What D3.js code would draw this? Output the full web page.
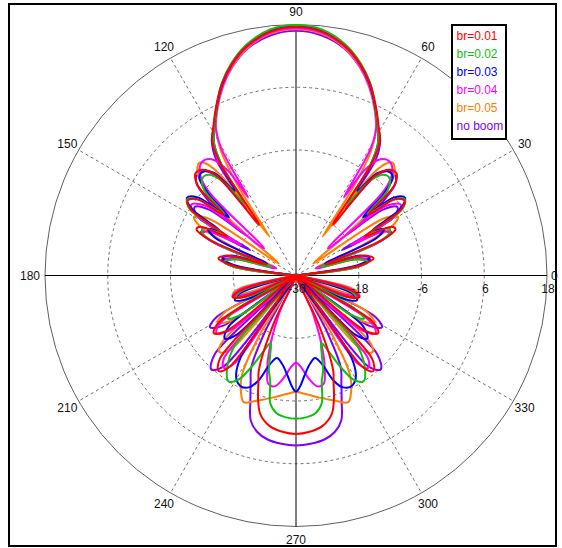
<!DOCTYPE html>
<html>
<head>
<meta charset="utf-8">
<script src="https://cdn.jsdelivr.net/npm/d3@7"></script>
<style>
  body { margin: 0; background: #ffffff; }
  svg { display: block; }
  text { font-family: "Liberation Sans", Arial, sans-serif; font-size: 12px; }
</style>
</head>
<body>
<svg id="chart" width="562" height="548"></svg>
<script>
// Polar grid
const angleTicks = [0, 30, 60, 90, 120, 150, 180, 210, 240, 270, 300, 330];
const radialTicks = [-30, -18, -6, 6, 18];

// Legend entries (top to bottom) and colours
const seriesNames = ["br=0.01", "br=0.02", "br=0.03", "br=0.04", "br=0.05", "no boom"];
const seriesColors = ["#ff0000", "#10c010", "#0000ff", "#ff00ff", "#ff8000", "#8000ff"];

// Gain patterns in dB, [angle off boresight (deg), gain]; each pattern is symmetric
// about the 90/270 axis, so only one half (0 = 90 deg direction, 180 = 270 deg) is listed.
const br001 = [[0,17.5],[6,16.9],[12,14.9],[17,12.2],[21,9.4],[25,6.0],[29,2.6],[32,0.2],[34,-4],[36,-18],[38.5,-5.5],[41.5,-3.0],[44.5,-2.6],[47.5,-4.5],[50,-12],[52.5,-6],[55.5,-4.8],[58,-6.5],[60.5,-15],[63,-9.5],[65,-9.0],[67.5,-12],[70,-24],[73.5,-16.5],[77.5,-14.8],[81,-17.5],[85,-30],[100,-30],[105,-19],[109,-17.2],[112.5,-19.5],[117,-30],[121,-13],[125,-10.8],[128.5,-13],[133,-30],[137.5,-8.5],[141,-6.5],[144,-8.5],[149,-30],[155,-20],[158.6,-10.5],[160.4,-8.6],[163,-5.2],[165.6,-2.6],[170,-0.8],[175,0],[180,0.3]];
const br002 = [[0,17.9],[6,17.3],[12,15.2],[17,12.4],[21,9.5],[25,5.9],[29,2.3],[32,-0.5],[34,-5],[35.5,-13],[38,-7],[41,-4.5],[44,-4.2],[47,-6],[49.5,-12],[52,-6.5],[55,-4.6],[58,-6],[60.5,-14],[63,-10],[66,-10.5],[68.5,-15],[71,-25],[75,-18],[79,-16],[82,-18],[86,-30],[100,-30],[106,-19],[110,-17.8],[113.5,-20],[117,-30],[119.5,-17],[122.5,-14.6],[125.5,-17],[131,-30],[139,-12],[144,-7.5],[147.5,-6.0],[151,-7.2],[154,-10.5],[157,-14.5],[159.4,-16.2],[162,-14],[164,-11.2],[166.3,-9.2],[168.7,-5.0],[172,-3.4],[176,-2.8],[180,-2.6]];
const br003 = [[0,17.7],[6,17.1],[12,15.0],[17,12.2],[21,9.3],[25,5.8],[29,2.3],[32,-0.5],[34,-4.5],[36,-10],[38.5,-5],[41.5,-3.4],[44.5,-3.6],[47,-7],[49,-13],[51.5,-6],[54.5,-4.4],[57.5,-6.5],[59.5,-13],[62,-11],[65,-13],[68,-24],[73,-17],[76.5,-15.5],[80,-17.5],[84,-30],[100,-30],[108,-18.5],[112,-17.4],[116,-20],[121,-30],[127,-14],[131.5,-11.8],[135,-14],[141,-30],[146,-11],[150,-7.2],[154,-6.3],[157.5,-6.9],[160.5,-8.8],[163.5,-12.2],[167,-13.8],[171,-12.9],[175,-10.9],[178,-8.7],[180,-7.8]];
const br004 = [[0,17.3],[6,16.7],[12,14.7],[17,11.9],[21,9.0],[25,5.6],[28.5,2.2],[30.5,-2],[31.5,-12.5],[33,-6],[36,-2.5],[39.5,-1.8],[43,-3],[46,-6.5],[49.7,-22],[52.5,-8],[56,-5.8],[59,-8],[61,-18],[63.5,-11],[66,-10.5],[68.5,-14],[71,-26],[75,-17.5],[79,-15.8],[82,-18],[86,-30],[100,-30],[104,-19],[108,-17.2],[111.5,-19.5],[115,-30],[122,-13],[126,-11.2],[130,-14],[134,-30],[139,-9],[142,-7.6],[145,-9.5],[151,-30],[156,-22],[160.7,-14.2],[163,-11.2],[165.7,-8.6],[169,-8.4],[173,-10.2],[177,-12.5],[180,-13.3]];
const br005 = [[0,17.1],[6,16.5],[12,14.5],[17,11.7],[21,8.8],[25,5.4],[28.5,2.0],[31,-2],[33,-10],[34.4,-21],[36,-10],[38,-3.5],[40.5,-1.6],[43.5,-2.6],[46,-5],[48,-7.5],[51,-18],[55,-26],[57,-10],[60,-7.5],[63,-9.5],[66,-18],[70,-26],[75,-18],[79,-16],[82,-18],[86,-30],[100,-30],[103,-19],[106,-17.5],[109,-19.5],[113,-30],[117,-15],[121,-12.5],[125,-15],[129,-30],[132,-11],[135,-9.3],[138.5,-11],[144,-30],[148.5,-17],[151,-9.2],[152.4,-7.3],[154.5,-5.5],[157.6,-3.8],[163,-5.0],[169.5,-6.3],[175,-7.2],[180,-7.7]];
const noBoom = [[0,16.8],[6,16.2],[12,14.4],[17,11.7],[21,9.0],[25,5.8],[29,2.4],[32,0.4],[34.5,-3],[36.5,-14],[38.5,-6],[41,-3.6],[44,-3.0],[47,-3.9],[49.5,-8],[51,-18],[53,-9],[56,-6.6],[59,-8],[61,-20],[63,-11.5],[65.5,-10],[68,-12.5],[70.5,-24],[74,-18],[78,-15.5],[81,-18],[85,-30],[100,-30],[104,-19.5],[107,-17.5],[110,-19.5],[114,-30],[117.5,-13],[121,-10.8],[124.5,-13],[129,-28],[134,-8.5],[138,-5.8],[141.5,-7.8],[147,-26],[151,-18],[154,-10.5],[157,-7.8],[160,-4.5],[162.6,-1.0],[166,0.8],[170,1.8],[175,2.3],[180,2.5]];

const seriesData = [br001, br002, br003, br004, br005, noBoom];

const svg = d3.select("#chart");
const cx = 296, cy = 275.5, R = 251;

// outer frame
svg.append("rect").attr("x", 9).attr("y", 4).attr("width", 547).attr("height", 542)
  .attr("fill", "#ffffff").attr("stroke", "#000").attr("stroke-width", 2);

const g = svg.append("g").attr("transform", `translate(${cx},${cy})`);
const r = d3.scaleLinear().domain([-30, 18]).range([0, R]).clamp(true);

// dashed spokes every 30 degrees (except the main axes)
angleTicks.filter(a => a % 90 !== 0).forEach(a => {
  const t = a * Math.PI / 180;
  g.append("line")
    .attr("x1", 0).attr("y1", 0)
    .attr("x2", R * Math.cos(t)).attr("y2", -R * Math.sin(t))
    .attr("stroke", "#707070").attr("stroke-width", 1).attr("stroke-dasharray", "3,3");
});

// dashed inner rings
radialTicks.slice(1, -1).forEach(v => {
  g.append("circle").attr("r", r(v)).attr("fill", "none")
    .attr("stroke", "#707070").attr("stroke-width", 1).attr("stroke-dasharray", "3,3");
});
// outer ring
g.append("circle").attr("r", r(18)).attr("fill", "none")
  .attr("stroke", "#606060").attr("stroke-width", 1);

// main axes
g.append("line").attr("x1", -R).attr("x2", R).attr("y1", 0).attr("y2", 0)
  .attr("stroke", "#000").attr("stroke-width", 1);
g.append("line").attr("y1", -R).attr("y2", R).attr("x1", 0).attr("x2", 0)
  .attr("stroke", "#000").attr("stroke-width", 1);

// pattern curves
const radial = d3.lineRadial()
  .angle(d => d[0] * Math.PI / 180)
  .radius(d => r(d[1]))
  .curve(d3.curveCatmullRomClosed.alpha(0.5));

function closedPattern(half) {
  const left = half.map(([a, v]) => [-a, v]);
  const right = half.slice(1, -1).reverse().map(([a, v]) => [a, v]);
  return left.concat(right);
}

const drawOrder = [5, 4, 3, 2, 1, 0];
drawOrder.forEach(i => {
  g.append("path")
    .attr("d", radial(closedPattern(seriesData[i])))
    .attr("fill", "none")
    .attr("stroke", seriesColors[i])
    .attr("stroke-width", 2)
    .attr("stroke-linejoin", "round");
});

// angle labels
angleTicks.forEach(a => {
  const t = a * Math.PI / 180;
  const lr = R + 13;
  let x = lr * Math.cos(t), y = -lr * Math.sin(t);
  let anchor = "middle";
  if (a === 0) { anchor = "start"; x = R + 4; }
  if (a === 180) { anchor = "end"; x = -R - 5; }
  g.append("text").attr("x", x).attr("y", y).attr("dy", "0.35em")
    .attr("text-anchor", anchor).attr("fill", "#111").text(a);
});

// radial labels along the 0 degree axis
radialTicks.forEach(v => {
  g.append("text").attr("x", r(v) + 1).attr("y", 13).attr("dy", "0.35em")
    .attr("text-anchor", "middle").attr("fill", "#111").text(v);
});

// legend
const lg = svg.append("g").attr("transform", "translate(452,25)");
lg.append("rect").attr("width", 54).attr("height", 114)
  .attr("fill", "#ffffff").attr("stroke", "#000").attr("stroke-width", 2);
seriesNames.forEach((n, i) => {
  lg.append("text").attr("x", 4.5).attr("y", 11 + i * 18).attr("dy", "0.35em")
    .attr("fill", seriesColors[i]).text(n);
});
</script>
</body>
</html>
